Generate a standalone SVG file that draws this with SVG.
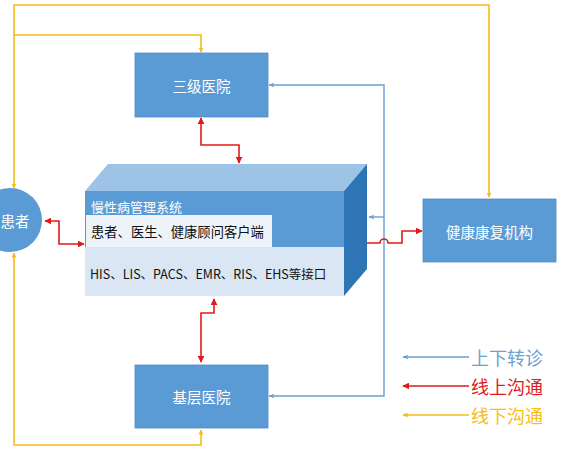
<svg xmlns="http://www.w3.org/2000/svg" width="562" height="461" viewBox="0 0 562 461">
<style>
.box{fill:#5b9bd5;stroke:#4f8cc6;stroke-width:0.8}
.lbl{font-family:"Noto Sans CJK SC","Noto Sans",sans-serif;fill:#ffffff;font-size:14.5px;text-anchor:middle;dominant-baseline:central}
.y{fill:none;stroke:#f6bd16;stroke-width:1.6}
.b{fill:none;stroke:#6a9fd3;stroke-width:1.4}
.r{fill:none;stroke:#e01b1b;stroke-width:1.6}
.leg{font-family:"Noto Sans CJK SC","Noto Sans",sans-serif;font-size:18px;dominant-baseline:central}
</style>
<defs>
<marker id="ay" viewBox="0 0 10 10" refX="9" refY="5" markerWidth="5" markerHeight="5" orient="auto-start-reverse" markerUnits="userSpaceOnUse"><path d="M0,0L10,5L0,10z" fill="#f6bd16"/></marker>
<marker id="ab" viewBox="0 0 10 10" refX="9" refY="5" markerWidth="6" markerHeight="6" orient="auto-start-reverse" markerUnits="userSpaceOnUse"><path d="M0,1L10,5L0,9L3,5z" fill="#6a9fd3"/></marker>
<marker id="ar" viewBox="0 0 10 10" refX="9" refY="5" markerWidth="7" markerHeight="7" orient="auto-start-reverse" markerUnits="userSpaceOnUse"><path d="M0,0L10,5L0,10z" fill="#e01b1b"/></marker>
</defs>
<rect width="562" height="461" fill="#ffffff"/>
<g id="connectors">
<!-- yellow offline -->
<path class="y" d="M14,188 V5 H489 V197" marker-start="url(#ay)" marker-end="url(#ay)"/>
<path class="y" d="M14,35 H201 V52" marker-end="url(#ay)"/>
<path class="y" d="M14,253 V445 H201 V430" marker-start="url(#ay)" marker-end="url(#ay)"/>
<!-- blue referral -->
<path class="b" d="M269,85 H384 V396 H269" marker-start="url(#ab)" marker-end="url(#ab)"/>
<path class="b" d="M384,217 H369" marker-end="url(#ab)"/>
<!-- red online -->
<path class="r" d="M201,118 V145 H239 V163" marker-start="url(#ar)" marker-end="url(#ar)"/>
<path class="r" d="M214,299 V313 H201 V362" marker-start="url(#ar)" marker-end="url(#ar)"/>
<path class="r" d="M45,221 H59 V244 H84" marker-start="url(#ar)" marker-end="url(#ar)"/>
<path class="r" d="M346,243 H380 A4,4 0 0 1 388,243 H402 V231 H422" marker-start="url(#ar)" marker-end="url(#ar)"/>
<circle cx="345" cy="243" r="2.2" fill="#e01b1b"/>
</g>
<g id="tertiary">
<rect class="box" x="135" y="53" width="133" height="64"/>
<text class="lbl" x="201.5" y="85">三级医院</text>
</g>
<g id="primary">
<rect class="box" x="135" y="365" width="133" height="63"/>
<text class="lbl" x="201.5" y="396">基层医院</text>
</g>
<g id="rehab">
<rect class="box" x="423" y="199" width="133" height="63"/>
<text class="lbl" x="489.5" y="231">健康康复机构</text>
</g>
<g id="patient">
<circle cx="10" cy="220" r="32" fill="#5b9bd5"/>
<text class="lbl" x="15" y="220" font-size="16">患者</text>
</g>
<g id="system">
<polygon points="85,191 108,164 367,164 344,191" fill="#9dc3e6"/>
<polygon points="344,191 367,164 367,269 344,296" fill="#2e75b6"/>
<rect x="85" y="191" width="259" height="57" fill="#5b9bd5"/>
<rect x="85" y="247" width="259" height="49" fill="#dae6f3"/>
<rect x="86" y="215" width="186" height="32" fill="#eef3fa"/>
<text x="91" y="206" font-family="Noto Sans CJK SC,Noto Sans,sans-serif" font-size="13" fill="#ffffff" dominant-baseline="central">慢性病管理系统</text>
<text x="91" y="231" font-family="Noto Sans CJK SC,Noto Sans,sans-serif" font-size="13.3" fill="#111111" dominant-baseline="central">患者、医生、健康顾问客户端</text>
<text x="90" y="273" font-family="Noto Sans CJK SC,Noto Sans,sans-serif" font-size="12.5" fill="#111111" dominant-baseline="central">HIS、LIS、PACS、EMR、RIS、EHS等接口</text>
</g>
<g id="legend">
<path class="b" d="M469,357 H403" marker-end="url(#ab)"/>
<text class="leg" x="471" y="357" fill="#6f9fd0">上下转诊</text>
<path class="r" d="M469,386 H403" marker-end="url(#ar)"/>
<text class="leg" x="471" y="386" fill="#e01b1b">线上沟通</text>
<path class="y" d="M469,415 H403" marker-end="url(#ay)"/>
<text class="leg" x="471" y="415" fill="#f6bd16">线下沟通</text>
</g>
</svg>
